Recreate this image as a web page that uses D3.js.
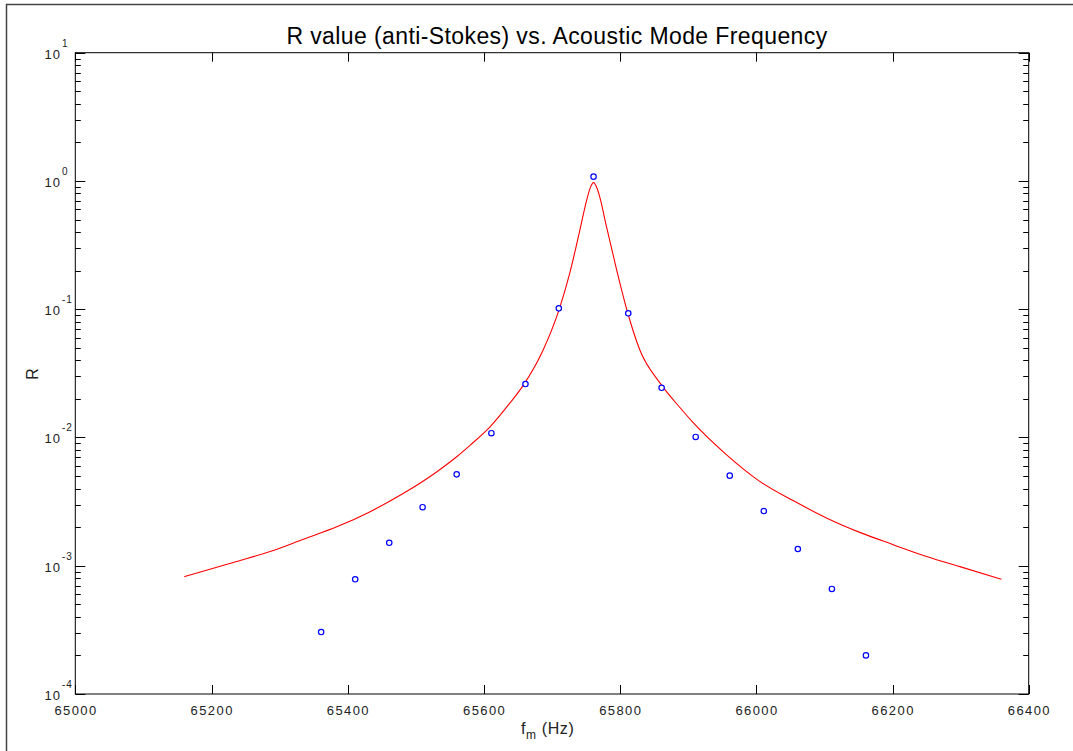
<!DOCTYPE html>
<html>
<head>
<meta charset="utf-8">
<script src="https://cdn.jsdelivr.net/npm/d3@7"></script>
<style>
  body { margin: 0; background: #fff; }
  svg { display: block; font-family: "Liberation Sans", Arial, sans-serif; }
</style>
</head>
<body>
<script>
// size of the page and the plot box
var w = 1073;
var h = 751;
var boxL = 75.3, boxR = 1028.7, boxT = 52.7, boxB = 694;

// measured points (blue circles)
var pointFreq = [65361, 65411, 65461, 65510, 65560, 65611, 65661, 65710, 65761,
                 65812, 65861, 65911, 65961, 66011, 66061, 66111, 66161];
var pointR = [3.04e-4, 7.84e-4, 1.51e-3, 2.86e-3, 5.16e-3, 1.08e-2, 2.61e-2, 0.1016, 1.08,
              0.0929, 0.0244, 0.0101, 5.04e-3, 2.67e-3, 1.35e-3, 6.59e-4, 2.00e-4];

// fit curve (red)
var fitFreq = [65160, 65237, 65286, 65335, 65384, 65433, 65482, 65531, 65560, 65580,
               65609, 65638, 65658, 65687, 65711, 65726, 65741, 65751, 65756, 65761,
               65766, 65770, 65780, 65795, 65810, 65829, 65859, 65890, 65907, 65956,
               66005, 66054, 66103, 66152, 66201, 66250, 66299, 66360];
var fitR = [8.22e-4, 1.08e-3, 1.29e-3, 1.61e-3, 2.01e-3, 2.64e-3, 3.67e-3, 5.41e-3, 7.08e-3, 8.73e-3,
            0.0121, 0.0185, 0.0256, 0.0481, 0.1016, 0.1905, 0.415, 0.711, 0.88, 0.97,
            0.88, 0.754, 0.44, 0.202, 0.0986, 0.0481, 0.0264, 0.0166, 0.0131, 7.35e-3,
            4.55e-3, 3.22e-3, 2.36e-3, 1.82e-3, 1.46e-3, 1.18e-3, 9.84e-4, 7.84e-4];

// axis ticks
var xTicks = [65000, 65200, 65400, 65600, 65800, 66000, 66200, 66400];
var yExponents = [1, 0, -1, -2, -3, -4];

var svg = d3.select("body")
            .append("svg")
            .attr("width", w)
            .attr("height", h)
            .style("background", "white");

// window frame
svg.append("line").attr("x1", 6).attr("y1", 4.5).attr("x2", w).attr("y2", 4.5)
   .attr("stroke", "#444").attr("stroke-width", 1.5);
svg.append("line").attr("x1", 6.5).attr("y1", 4).attr("x2", 6.5).attr("y2", h)
   .attr("stroke", "#444").attr("stroke-width", 1.5);

var x = d3.scaleLinear().domain([65000, 66400]).range([boxL, boxR]);
var y = d3.scaleLog().domain([1e-4, 10]).range([boxB, boxT]);

// minor ticks 2..9 in each decade
var minors = [];
for (var e = -4; e < 1; e++) {
    for (var m = 2; m <= 9; m++) minors.push(m * Math.pow(10, e));
}

var axes = svg.append("g").attr("stroke", "#000").attr("stroke-width", 1);

axes.selectAll(".xt")
   .data(xTicks)
   .enter()
   .append("path")
   .attr("d", function(d) {
       var px = Math.round(x(d)) + 0.5;
       return "M" + px + "," + boxB + "v-9M" + px + "," + boxT + "v9";
   });

axes.selectAll(".ymaj")
   .data(yExponents)
   .enter()
   .append("path")
   .attr("d", function(d) {
       var py = Math.round(y(Math.pow(10, d))) + 0.5;
       return "M" + boxL + "," + py + "h10M" + boxR + "," + py + "h-10";
   });

axes.selectAll(".ymin")
   .data(minors)
   .enter()
   .append("path")
   .attr("d", function(d) {
       var py = Math.round(y(d)) + 0.5;
       return "M" + boxL + "," + py + "h5.5M" + boxR + "," + py + "h-5.5";
   });

axes.append("rect")
   .attr("x", boxL).attr("y", boxT)
   .attr("width", boxR - boxL).attr("height", boxB - boxT)
   .attr("fill", "none");

// tick labels
svg.selectAll(".xl")
   .data(xTicks)
   .enter()
   .append("text")
   .attr("x", function(d) { return x(d) + 0.7; })
   .attr("y", 715)
   .attr("text-anchor", "middle")
   .attr("font-size", "13px")
   .attr("letter-spacing", "1.4px")
   .attr("fill", "#222")
   .text(function(d) { return d; });

var yl = svg.selectAll(".yl")
   .data(yExponents)
   .enter()
   .append("g");

yl.append("text")
   .attr("x", 61)
   .attr("y", function(d) { return y(Math.pow(10, d)) + 6; })
   .attr("text-anchor", "end")
   .attr("font-size", "13px")
   .attr("letter-spacing", "1px")
   .attr("fill", "#222")
   .text("10");

yl.append("text")
   .attr("x", 62)
   .attr("y", function(d) { return y(Math.pow(10, d)) - 6; })
   .attr("font-size", "10px")
   .attr("letter-spacing", "1px")
   .attr("fill", "#222")
   .text(function(d) { return d < 0 ? "-" + (-d) : d; });

// fit line
var line = d3.line()
   .x(function(d) { return x(d[0]); })
   .y(function(d) { return y(d[1]); })
   .curve(d3.curveMonotoneX);

svg.append("path")
   .datum(d3.zip(fitFreq, fitR))
   .attr("d", line)
   .attr("fill", "none")
   .attr("stroke", "#ff0000")
   .attr("stroke-width", 1.1);

// data points
svg.selectAll("circle")
   .data(d3.zip(pointFreq, pointR))
   .enter()
   .append("circle")
   .attr("cx", function(d) { return x(d[0]); })
   .attr("cy", function(d) { return y(d[1]); })
   .attr("r", 2.7)
   .attr("fill", "white")
   .attr("stroke", "#0000ff")
   .attr("stroke-width", 1.2);

// titles
svg.append("text")
   .attr("x", 557)
   .attr("y", 44)
   .attr("text-anchor", "middle")
   .attr("font-size", "23px")
   .attr("letter-spacing", "0.4px")
   .attr("fill", "#000")
   .text("R value (anti-Stokes) vs. Acoustic Mode Frequency");

var xlab = svg.append("text")
   .attr("x", 521)
   .attr("y", 734)
   .attr("font-size", "16px")
   .attr("letter-spacing", "0.6px")
   .attr("fill", "#222");
xlab.append("tspan").text("f");
xlab.append("tspan").attr("dy", 5).attr("font-size", "12px").text("m");
xlab.append("tspan").attr("dy", -5).text(" (Hz)");

svg.append("text")
   .attr("transform", "translate(38,374) rotate(-90)")
   .attr("text-anchor", "middle")
   .attr("font-size", "16px")
   .attr("fill", "#222")
   .text("R");
</script>
</body>
</html>
